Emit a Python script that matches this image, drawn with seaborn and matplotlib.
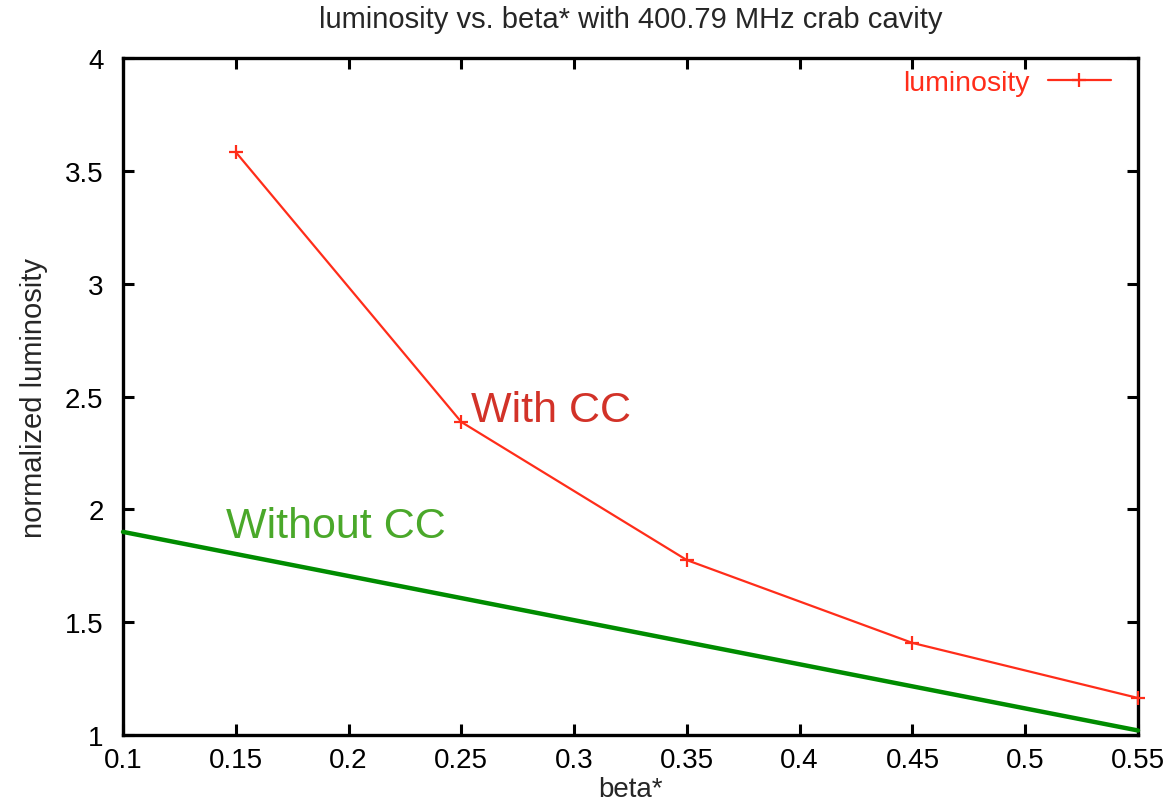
import matplotlib
matplotlib.use("Agg")
import matplotlib.pyplot as plt
import seaborn as sns
import pandas as pd

# Data
beta_star = [0.15, 0.25, 0.35, 0.45, 0.55]
luminosity = [3.583, 2.387, 1.775, 1.408, 1.164]
beta_nocc = [0.10, 0.55]
luminosity_nocc = [1.90, 1.02]

x_ticks = [0.1, 0.15, 0.2, 0.25, 0.3, 0.35, 0.4, 0.45, 0.5, 0.55]
y_ticks = [1, 1.5, 2, 2.5, 3, 3.5, 4]

sns.set_theme(style="white")
plt.rcParams["font.family"] = ["Liberation Sans", "DejaVu Sans"]

red = "#ff2d1a"
green = "#008c00"

fig = plt.figure(figsize=(11.72, 8.03), dpi=100)
ax = fig.add_axes([123 / 1172, (803 - 736) / 803, (1138 - 123) / 1172, (736 - 59) / 803])

df_cc = pd.DataFrame({"beta": beta_star, "lum": luminosity})
df_nocc = pd.DataFrame({"beta": beta_nocc, "lum": luminosity_nocc})

sns.lineplot(data=df_nocc, x="beta", y="lum", ax=ax, color=green, linewidth=3.2,
             clip_on=False, zorder=3)
sns.lineplot(data=df_cc, x="beta", y="lum", ax=ax, color=red, linewidth=1.6,
             marker="+", markersize=10, markeredgewidth=1.6, markeredgecolor=red,
             clip_on=False, zorder=4, label="luminosity")

ax.set_xlim(0.1, 0.55)
ax.set_ylim(1, 4)
ax.set_xticks(x_ticks)
ax.set_xticklabels([f"{v:g}" for v in x_ticks])
ax.set_yticks(y_ticks)
ax.set_yticklabels([f"{v:g}" for v in y_ticks])

for sp in ax.spines.values():
    sp.set_visible(True)
    sp.set_color("black")
    sp.set_linewidth(2.4)

ax.tick_params(axis="both", which="major", direction="in", length=8, width=2.2,
               top=True, right=True, bottom=True, left=True,
               labelsize=20, colors="black", pad=9)
ax.tick_params(axis="y", pad=14)

ax.set_xlabel("beta*", fontsize=20, labelpad=2)
ax.set_ylabel("normalized luminosity", fontsize=21, labelpad=12)
ax.set_title("luminosity vs. beta* with 400.79 MHz crab cavity", fontsize=21, pad=22)

ax.text(0.25 + 0.0045, 2.44, "With CC", color="#d23228", fontsize=31, ha="left", va="center")
ax.text(0.1 + 0.0455, 1.925, "Without CC", color="#4aa82a", fontsize=31, ha="left", va="center")

leg = ax.legend(loc="upper right", frameon=False, markerfirst=False, fontsize=20.5,
                handlelength=2.2, handletextpad=0.65, borderaxespad=0.2,
                bbox_to_anchor=(0.99, 1.008))
for t in leg.get_texts():
    t.set_color(red)

fig.savefig("out.png", dpi=100)
